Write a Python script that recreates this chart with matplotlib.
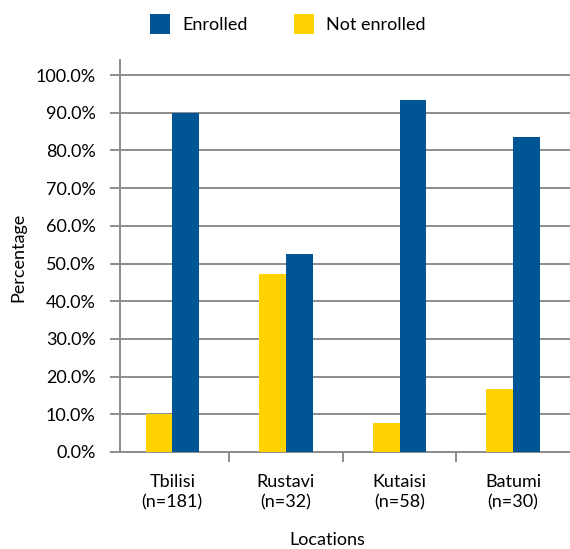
import matplotlib
matplotlib.use("Agg")
import matplotlib.pyplot as plt
from matplotlib.patches import Patch
import numpy as np

locations = ["Tbilisi\n(n=181)", "Rustavi\n(n=32)", "Kutaisi\n(n=58)", "Batumi\n(n=30)"]
not_enrolled = [10.1, 47.3, 7.7, 16.7]
enrolled = [90.0, 52.6, 93.4, 83.6]
yticks = [0, 10, 20, 30, 40, 50, 60, 70, 80, 90, 100]

BLUE = "#005597"
YELLOW = "#FFD200"
GRID = "#8c8c8c"
FS = 13

plt.rcParams['font.family'] = ['Lato', 'DejaVu Sans']

W, H = 570, 549
fig = plt.figure(figsize=(W / 100, H / 100), dpi=100)
ax = fig.add_axes([120 / W, 1 - 452 / H, 450 / W, (452 - 60) / H])

x = np.arange(len(locations))
bw = 0.235
ax.bar(x - bw / 2, not_enrolled, width=bw, color=YELLOW, zorder=3)
ax.bar(x + bw / 2, enrolled, width=bw, color=BLUE, zorder=3)

ax.set_xlim(-0.46, 3.5)
ax.set_ylim(0, 104)
ax.set_yticks(yticks)
ax.set_yticklabels([f"{v:.1f}%" for v in yticks], fontsize=FS)
ax.yaxis.grid(True, color=GRID, linewidth=1.4, zorder=0)
ax.set_axisbelow(True)

ax.set_xticks(x)
ax.set_xticklabels(locations, fontsize=FS, linespacing=1.3)
ax.tick_params(axis='x', length=0, pad=16)
# category separators
ax.set_xticks([0.5, 1.5, 2.5], minor=True)
ax.tick_params(axis='x', which='minor', length=7.5, width=1.4, color=GRID, direction='out')
ax.tick_params(axis='y', length=7.5, width=1.4, color=GRID, pad=10)

for s in ['top', 'right']:
    ax.spines[s].set_visible(False)
ax.spines['left'].set_color(GRID)
ax.spines['left'].set_linewidth(1.4)
ax.spines['bottom'].set_color(GRID)
ax.spines['bottom'].set_linewidth(1.4)

fig.text(18 / W, 1 - 257 / H, "Percentage", rotation=90, ha='center', va='center', fontsize=FS)
fig.text(327 / W, 1 - 540 / H, "Locations", ha='center', va='center', fontsize=FS)

handles = [Patch(facecolor=BLUE, label="Enrolled"), Patch(facecolor=YELLOW, label="Not enrolled")]
fig.legend(handles=handles, loc='center', bbox_to_anchor=(288 / W, 1 - 24 / H), ncol=2,
           frameon=False, fontsize=FS, handlelength=1.1, handleheight=1.25,
           handletextpad=0.66, columnspacing=2.6)

fig.savefig("out.png", dpi=100)
